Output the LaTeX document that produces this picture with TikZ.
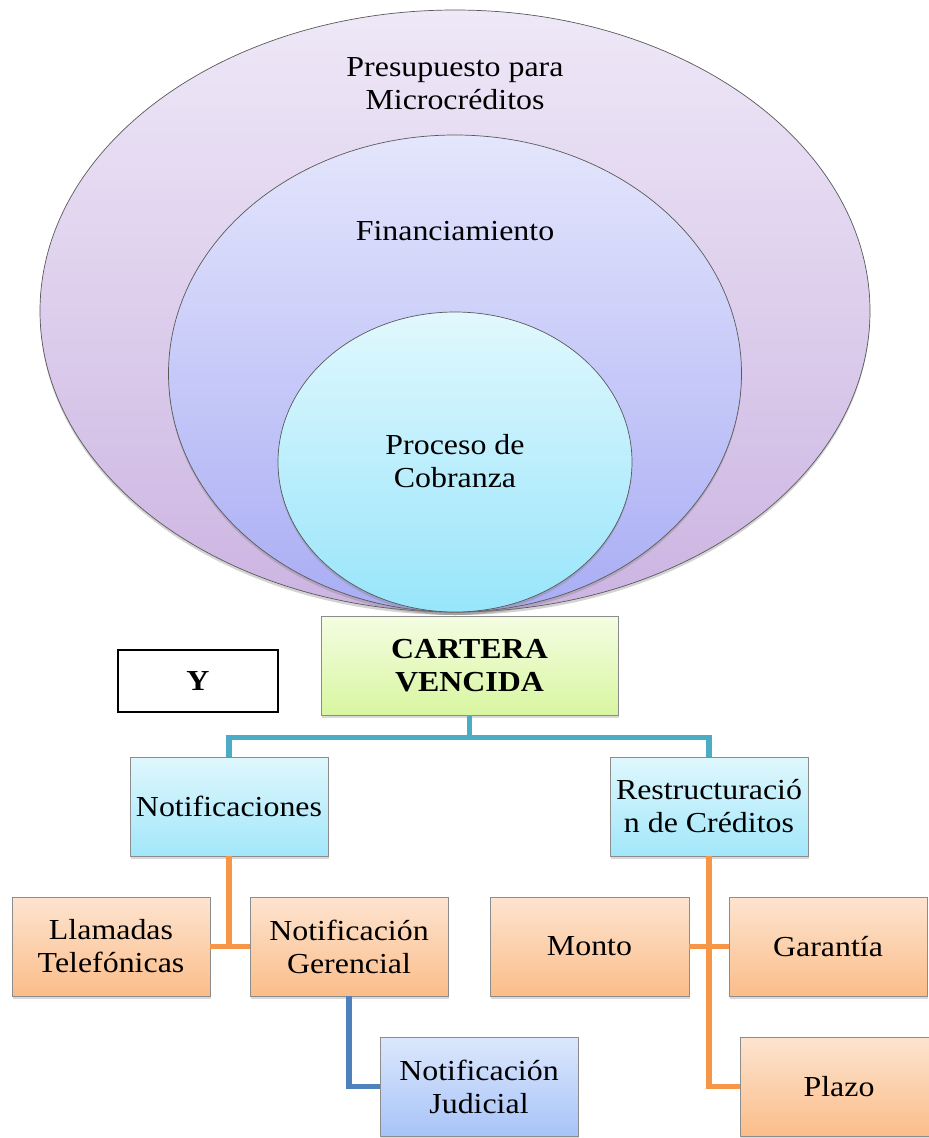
\documentclass[tikz,border=0pt]{standalone}
\usepackage{fontspec}
\setmainfont{Liberation Serif}[FakeStretch=1.1]
\usetikzlibrary{shapes.geometric,shadows}
\definecolor{tealline}{HTML}{4BACC6}
\definecolor{orangeline}{HTML}{F79646}
\definecolor{blueline}{HTML}{4F81BD}
\definecolor{obot}{HTML}{FBBD89}
\definecolor{otop}{HTML}{FDE4D0}
\definecolor{ctop}{HTML}{DFF7FD}
\definecolor{cbot}{HTML}{A2E7FA}
\definecolor{btop}{HTML}{DCE7FC}
\definecolor{bbot}{HTML}{A7C4F8}
\definecolor{gtop}{HTML}{F4FDE2}
\definecolor{gbot}{HTML}{D8F6A0}
\definecolor{p1top}{HTML}{EEE8F7}
\definecolor{p1bot}{HTML}{CCB4E2}
\definecolor{p2top}{HTML}{E4E6FC}
\definecolor{p2bot}{HTML}{A9ADF4}
\definecolor{p3top}{HTML}{E1F8FD}
\definecolor{p3bot}{HTML}{98E5FB}
\tikzset{
  txt/.style={font=\fontsize{29}{33}\selectfont, align=center, inner sep=0pt},
  ell/.style={ellipse, draw=black!65, line width=0.7pt, inner sep=0pt,
     drop shadow={shadow xshift=0pt, shadow yshift=-3pt, opacity=0.35}},
  boxbase/.style={rectangle, draw=black!45, line width=0.8pt, txt,
     minimum width=198pt, minimum height=99pt,
     drop shadow={shadow xshift=1pt, shadow yshift=-3pt, opacity=0.3}},
  conn/.style={line width=5.5pt},
}
\begin{document}
\begin{tikzpicture}[x=1pt,y=-1pt]
\useasboundingbox (0,0) rectangle (929,1138);
% ellipses
\node[ell, minimum width=830pt, minimum height=602pt, top color=p1top, bottom color=p1bot] (outer) at (455,311) {};
\node[ell, minimum width=573pt, minimum height=477pt, top color=p2top, bottom color=p2bot] (middle) at (455,373.5) {};
\node[ell, minimum width=354pt, minimum height=300pt, top color=p3top, bottom color=p3bot] (inner) at (455,462) {};
\node[txt] (tpres) at (455,84) {Presupuesto para\\Microcréditos};
\node[txt] (tfin) at (455,231) {Financiamiento};
\node[txt] (tproc) at (455,461) {Proceso de\\Cobranza};
% boxes
\node[rectangle, draw=black, line width=1.2pt, fill=white, minimum width=160pt, minimum height=62pt, txt, font=\fontsize{29}{33}\selectfont\bfseries] (y) at (198,681) {Y};
\node[boxbase, top color=gtop, bottom color=gbot, minimum width=297pt, font=\fontsize{29}{33}\selectfont\bfseries] (cartera) at (469.5,665.5) {CARTERA\\VENCIDA};
\node[boxbase, top color=ctop, bottom color=cbot] (notif) at (229,806.5) {Notificaciones};
\node[boxbase, top color=ctop, bottom color=cbot] (restr) at (709,806.5) {Restructuració\\n de Créditos};
\node[boxbase, top color=otop, bottom color=obot] (llam) at (111,946.5) {Llamadas\\Telefónicas};
\node[boxbase, top color=otop, bottom color=obot] (ger) at (349,946.5) {Notificación\\Gerencial};
\node[boxbase, top color=btop, bottom color=bbot] (jud) at (479,1086.5) {Notificación\\Judicial};
\node[boxbase, top color=otop, bottom color=obot, minimum width=199pt] (monto) at (589.5,946.5) {Monto};
\node[boxbase, top color=otop, bottom color=obot] (gar) at (828,946.5) {Garantía};
\node[boxbase, top color=otop, bottom color=obot] (plazo) at (839,1086.5) {Plazo};
% connectors
\coordinate (hub) at ([yshift=-22pt]cartera.south);
\draw[conn, tealline] (cartera.south) -- (hub) -| (notif.north);
\draw[conn, tealline] (hub) -| (restr.north);
\draw[conn, orangeline] (notif.south) -- (notif.south |- llam.east);
\draw[conn, orangeline] (llam.east) -- (ger.west);
\draw[conn, blueline] (ger.south) -- (ger.south |- jud.west) -- (jud.west);
\draw[conn, orangeline] (restr.south) -- (restr.south |- plazo.west) -- (plazo.west);
\draw[conn, orangeline] (monto.east) -- (gar.west);
\end{tikzpicture}
\end{document}
